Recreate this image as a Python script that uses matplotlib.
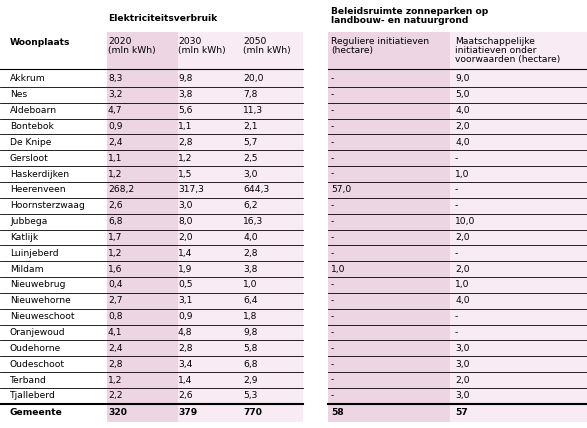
import matplotlib
matplotlib.use("Agg")
import matplotlib.pyplot as plt

places = ["Akkrum","Nes","Aldeboarn","Bontebok","De Knipe","Gersloot","Haskerdijken","Heerenveen",
          "Hoornsterzwaag","Jubbega","Katlijk","Luinjeberd","Mildam","Nieuwebrug","Nieuwehorne",
          "Nieuweschoot","Oranjewoud","Oudehorne","Oudeschoot","Terband","Tjalleberd"]
v2020 = ["8,3","3,2","4,7","0,9","2,4","1,1","1,2","268,2","2,6","6,8","1,7","1,2","1,6","0,4","2,7","0,8","4,1","2,4","2,8","1,2","2,2"]
v2030 = ["9,8","3,8","5,6","1,1","2,8","1,2","1,5","317,3","3,0","8,0","2,0","1,4","1,9","0,5","3,1","0,9","4,8","2,8","3,4","1,4","2,6"]
v2050 = ["20,0","7,8","11,3","2,1","5,7","2,5","3,0","644,3","6,2","16,3","4,0","2,8","3,8","1,0","6,4","1,8","9,8","5,8","6,8","2,9","5,3"]
regulier = ["-","-","-","-","-","-","-","57,0","-","-","-","-","1,0","-","-","-","-","-","-","-","-"]
maatsch = ["9,0","5,0","4,0","2,0","4,0","-","1,0","-","-","10,0","2,0","-","2,0","1,0","4,0","-","-","3,0","3,0","2,0","3,0"]
total = ["Gemeente","320","379","770","58","57"]

W, H = 587, 428
fig = plt.figure(figsize=(W/100, H/100), dpi=100)
ax = fig.add_axes([0, 0, 1, 1])
ax.set_xlim(0, W); ax.set_ylim(H, 0); ax.axis("off")

dark = "#edd5e4"; light = "#f8ebf3"
top, y0, rh = 32, 71, 15.85
n = len(places)
bottom = y0 + (n + 1) * rh + 2
ax.add_patch(plt.Rectangle((107, top), 71, bottom - top, color=dark, lw=0))
ax.add_patch(plt.Rectangle((178, top), 125, bottom - top, color=light, lw=0))
ax.add_patch(plt.Rectangle((328, top), 122, bottom - top, color=dark, lw=0))
ax.add_patch(plt.Rectangle((450, top), 137, bottom - top, color=light, lw=0))

fs = 6.6
kw = dict(fontsize=fs, va="center", family="DejaVu Sans")
ax.text(108, 18, "Elektriciteitsverbruik", fontweight="bold", **kw)
ax.text(331, 16, "Beleidsruimte zonneparken op\nlandbouw- en natuurgrond", fontweight="bold", linespacing=0.95, **kw)
ax.text(10, 42, "Woonplaats", fontweight="bold", **kw)
for x, t in [(108, "2020\n(mln kWh)"), (178, "2030\n(mln kWh)"), (243, "2050\n(mln kWh)"),
             (331, "Reguliere initiatieven\n(hectare)")]:
    ax.text(x, 37, t, va="top", fontsize=fs, family="DejaVu Sans", linespacing=1.0)
ax.text(455, 37, "Maatschappelijke\ninitiatieven onder\nvoorwaarden (hectare)", va="top", fontsize=fs,
        family="DejaVu Sans", linespacing=1.0)

xs = [10, 108, 178, 243, 331, 455]
for seg in [(0, 303), (328, 587)]:
    ax.plot(seg, [y0 - 2, y0 - 2], color="black", lw=0.8)
for i in range(n):
    yc = y0 + i * rh + rh / 2
    for x, t in zip(xs, [places[i], v2020[i], v2030[i], v2050[i], regulier[i], maatsch[i]]):
        ax.text(x, yc, t, **kw)
    yl = y0 + (i + 1) * rh
    w = 1.5 if i == n - 1 else 0.6
    for seg in [(0, 303), (328, 587)]:
        ax.plot(seg, [yl, yl], color="black", lw=w)
yc = y0 + n * rh + rh / 2 + 1
for x, t in zip(xs, total):
    ax.text(x, yc, t, fontweight="bold", **kw)

fig.savefig("out.png", dpi=100)
